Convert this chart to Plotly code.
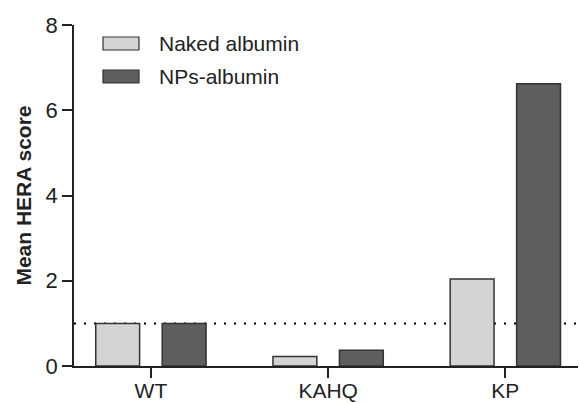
import plotly.graph_objects as go

# Data
categories = ["WT", "KAHQ", "KP"]
naked_albumin = [1.0, 0.22, 2.04]
nps_albumin = [1.0, 0.37, 6.62]
series_names = ["Naked albumin", "NPs-albumin"]
y_ticks = [0, 2, 4, 6, 8]
reference_level = 1.0

NAKED_COLOR = "#d4d4d4"
NPS_COLOR = "#5e5e5e"
EDGE = "#333333"
FONT = "Liberation Sans, Arial, sans-serif"

# Plot area in pixels (for the hand-drawn legend placement)
W, H = 579, 403
L, R, T, B = 74, 1, 25, 37
pw, ph = W - L - R, H - T - B


def px_to_paper(x, y):
    return (x - L) / pw, (H - B - y) / ph


fig = go.Figure()
fig.add_trace(go.Bar(x=categories, y=naked_albumin, name=series_names[0],
                     marker=dict(color=NAKED_COLOR, line=dict(color=EDGE, width=1.5)),
                     showlegend=False))
fig.add_trace(go.Bar(x=categories, y=nps_albumin, name=series_names[1],
                     marker=dict(color=NPS_COLOR, line=dict(color=EDGE, width=1.5)),
                     showlegend=False))

# Dotted reference line at 1, behind the bars
fig.add_shape(type="line", xref="paper", yref="y", x0=0, x1=1,
              y0=reference_level, y1=reference_level,
              line=dict(color="black", width=2, dash="2px,8px"), layer="below")

# Legend drawn as wide swatches
for i, (name, color) in enumerate(zip(series_names, [NAKED_COLOR, NPS_COLOR])):
    top = 37 + i * 33
    x0, y0 = px_to_paper(103, top + 13)
    x1, y1 = px_to_paper(139, top)
    fig.add_shape(type="rect", xref="paper", yref="paper", x0=x0, x1=x1, y0=y0, y1=y1,
                  fillcolor=color, line=dict(color=EDGE, width=1.2))
    tx, ty = px_to_paper(157, top + 6.5)
    fig.add_annotation(xref="paper", yref="paper", x=tx, y=ty, text=name,
                       showarrow=False, xanchor="left", yanchor="middle",
                       font=dict(family=FONT, size=21, color="#222"))

fig.update_layout(
    width=W, height=H,
    margin=dict(l=L, r=R, t=T, b=B),
    plot_bgcolor="white", paper_bgcolor="white",
    barmode="group", bargap=0.25, bargroupgap=0.34,
    font=dict(family=FONT, size=22, color="#222"),
)
fig.update_xaxes(range=[-0.434, 2.41], showline=True, linecolor="#222", linewidth=1.5,
                 ticks="outside", ticklen=10, tickwidth=1.5, tickcolor="#222",
                 showgrid=False, zeroline=False, tickfont=dict(size=21),
                 automargin=False, ticklabelstandoff=-5)
fig.update_yaxes(range=[0, 8], tickvals=y_ticks, showline=True, linecolor="#222", linewidth=1.5,
                 ticks="outside", ticklen=10, tickwidth=1.5, tickcolor="#222",
                 showgrid=False, zeroline=False, tickfont=dict(size=22), automargin=False,
                 title=dict(text="<b>Mean HERA score</b>", font=dict(size=21), standoff=8))

fig.write_html("out.html")
